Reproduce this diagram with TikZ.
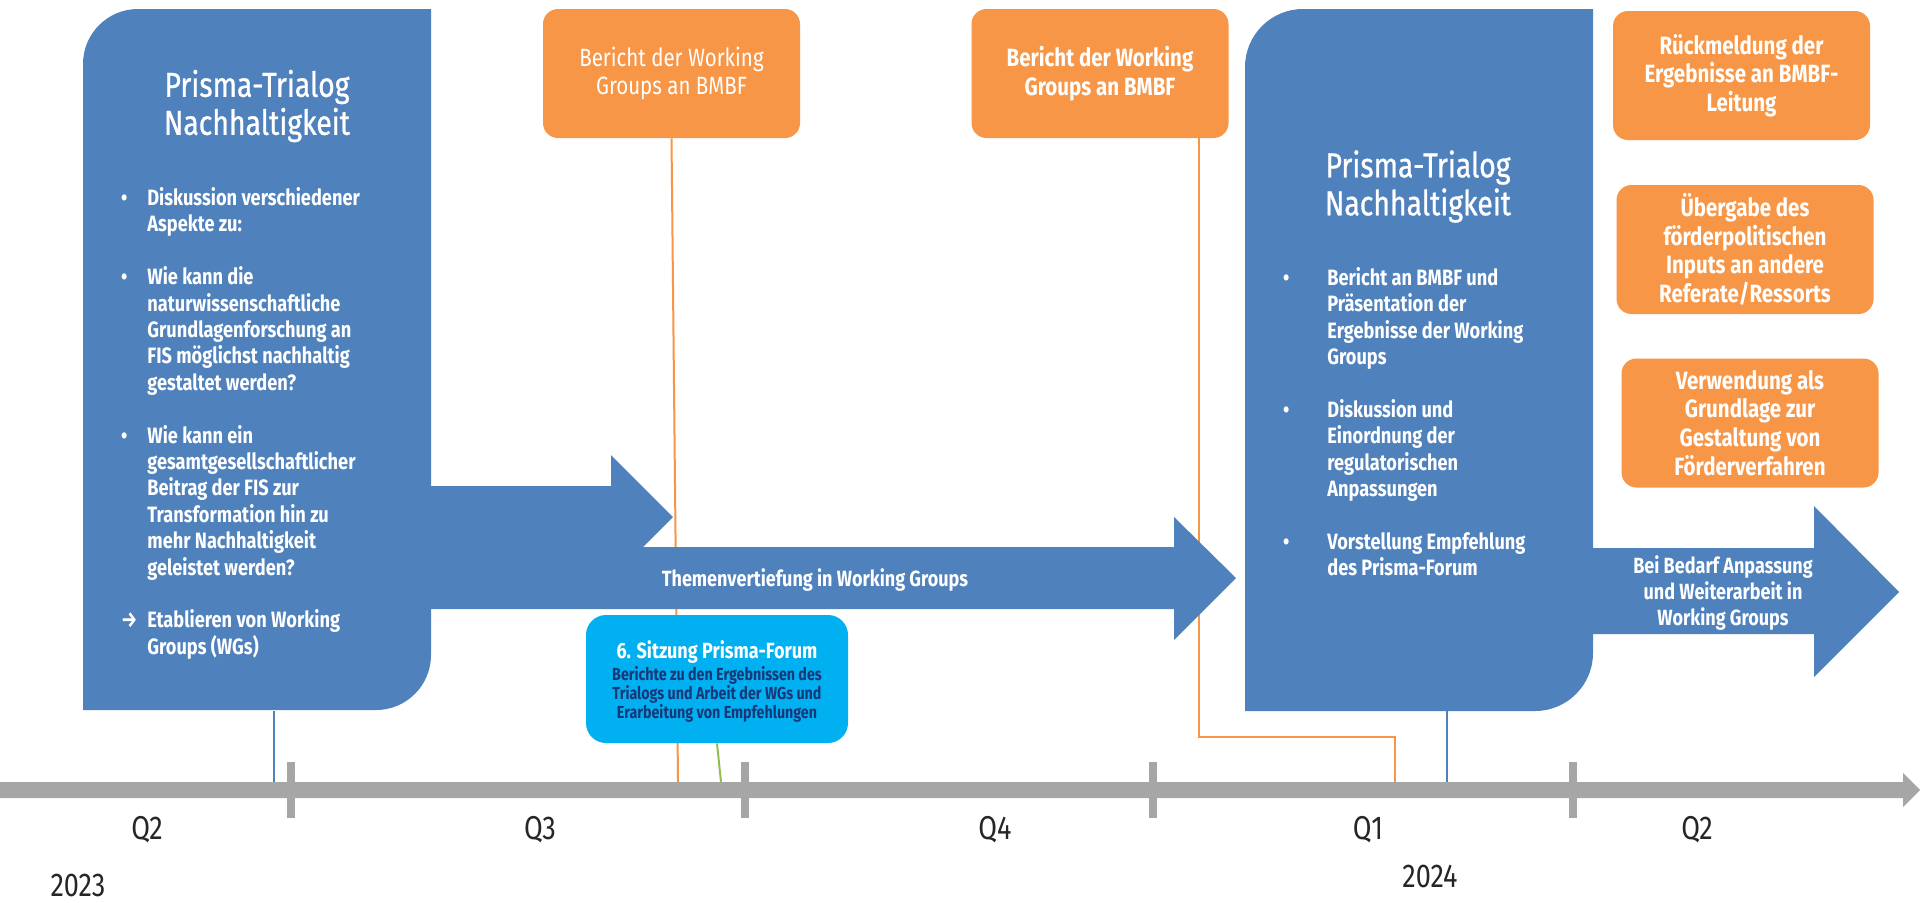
\documentclass[tikz,border=0pt]{standalone}
\usepackage{fontspec}
\setmainfont{Fira Sans}[FakeStretch=0.82]
\usetikzlibrary{backgrounds}

\definecolor{trialogblau}{RGB}{79,129,189}
\definecolor{berichtorange}{RGB}{247,150,70}
\definecolor{forumcyan}{RGB}{0,176,240}
\definecolor{forumtext}{RGB}{23,55,120}
\definecolor{achsengrau}{RGB}{166,166,166}
\definecolor{forumgruen}{RGB}{146,190,80}
\definecolor{beschriftung}{RGB}{38,38,38}

\pgfdeclarelayer{linien}
\pgfsetlayers{background,linien,main}

\newcommand\bul[1][10pt]{\makebox[0pt][r]{\textbullet\hspace{#1}}}

\begin{document}
\begin{tikzpicture}[x=0.5pt,y=-0.5pt,
  berichtbox/.style={fill=berichtorange,rounded corners=7.5pt,text=white,align=center,
    minimum width=128.5pt,minimum height=64.5pt,inner sep=0pt,
    font=\fontsize{12.5}{14.3}\selectfont\bfseries},
  titel/.style={text=white,align=center,font=\fontsize{17.3}{19}\selectfont\addfontfeature{FakeBold=0.8}},
  punkte/.style={text=white,align=left,anchor=north west,inner sep=0pt,
    font=\fontsize{11.1}{13.2}\selectfont\bfseries},
  pfeiltext/.style={text=white,align=center,font=\fontsize{11}{13.2}\selectfont\bfseries},
  stiel/.style={line width=1pt},
  quartal/.style={text=beschriftung,font=\fontsize{16.5}{19}\selectfont}]

  \begin{pgfonlayer}{background}
    \fill[white] (0,0) rectangle (1920,902);
  \end{pgfonlayer}
  \useasboundingbox (0,0) rectangle (1920,902);

  % Zeitachse
  \fill[achsengrau] (0,782) -- (1903,782) -- (1903,773) -- (1920,790) -- (1903,807) -- (1903,798) -- (0,798) -- cycle;
  \foreach \x in {291,745,1153,1573}
    \fill[achsengrau] (\x-4,762) rectangle (\x+4,818);
  \node[quartal] (q2a) at (147,830) {Q2};
  \node[quartal] (q3) at (540,830) {Q3};
  \node[quartal] (q4) at (995,830) {Q4};
  \node[quartal] (q1) at (1368,830) {Q1};
  \node[quartal] (q2b) at (1697,830) {Q2};
  \node[quartal] (j2023) at (78,885) {2023};
  \node[quartal] (j2024) at (1430,876) {2024};

  % Berichte
  \node[berichtbox,font=\fontsize{12.5}{14.3}\selectfont] (bericht1) at (671.5,73.5) {Bericht der Working\\Groups an BMBF};
  \node[berichtbox] (bericht2) at (1100,73.5) {Bericht der Working\\Groups an BMBF};
  \node[berichtbox] (rueckmeldung) at (1741.5,75.5) {Rückmeldung der\\Ergebnisse an BMBF-\\Leitung};
  \node[berichtbox] (uebergabe) at (1745,249.5) {Übergabe des\\förderpolitischen\\Inputs an andere\\Referate/Ressorts};
  \node[berichtbox] (verwendung) at (1750,423) {Verwendung als\\Grundlage zur\\Gestaltung von\\Förderverfahren};

  % Pfeile
  \fill[trialogblau] (431,486) -- (611,486) -- (611,455) -- (673,517) -- (611,579) -- (611,547) -- (431,547) -- cycle;
  \fill[trialogblau] (400,547) -- (1174,547) -- (1174,517) -- (1236,578) -- (1174,640) -- (1174,609) -- (400,609) -- cycle;
  \node[pfeiltext] (vertiefung) at (815,580) {Themenvertiefung in Working Groups};
  \fill[trialogblau] (1560,548) -- (1814,548) -- (1814,506) -- (1899,592) -- (1814,677) -- (1814,634) -- (1560,634) -- cycle;
  \node[pfeiltext] (weiterarbeit) at (1723,593) {Bei Bedarf Anpassung\\und Weiterarbeit in\\Working Groups};

  % Prisma-Trialog 2023
  \fill[trialogblau] (83,710) -- (83,64) .. controls (83,33.6) and (107.6,9) .. (138,9) -- (431,9) -- (431,655) .. controls (431,685.4) and (406.4,710) .. (376,710) -- cycle;
  \node[titel] (trialog1) at (257,106) {Prisma-Trialog\\Nachhaltigkeit};
  \node[punkte] (inhalt1) at (147,187) {\bul Diskussion verschiedener\\Aspekte zu:\\[13.2pt]
    \bul Wie kann die\\naturwissenschaftliche\\Grundlagenforschung an\\FIS möglichst nachhaltig\\gestaltet werden?\\[13.2pt]
    \bul Wie kann ein\\gesamtgesellschaftlicher\\Beitrag der FIS zur\\Transformation hin zu\\mehr Nachhaltigkeit\\geleistet werden?\\[13.2pt]
    \makebox[0pt][r]{→\hspace{5pt}}Etablieren von Working\\Groups (WGs)};

  % Prisma-Trialog 2024
  \fill[trialogblau] (1245,711) -- (1245,67) .. controls (1245,35) and (1271,9) .. (1303,9) -- (1593,9) -- (1593,653) .. controls (1593,685) and (1567,711) .. (1535,711) -- cycle;
  \node[titel] (trialog2) at (1418,186.5) {Prisma-Trialog\\Nachhaltigkeit};
  \node[punkte] (inhalt2) at (1327,267) {\bul[19pt]Bericht an BMBF und\\Präsentation der\\Ergebnisse der Working\\Groups\\[13.2pt]
    \bul[19pt]Diskussion und\\Einordnung der\\regulatorischen\\Anpassungen\\[13.2pt]
    \bul[19pt]Vorstellung Empfehlung\\des Prisma-Forum};

  % Prisma-Forum
  \node[fill=forumcyan,rounded corners=10pt,minimum width=131pt,minimum height=64pt] (forum) at (717,679) {};
  \node[text=white,font=\fontsize{11}{13.2}\selectfont\bfseries] (forumtitel) at (717,652) {6. Sitzung Prisma-Forum};
  \node[text=forumtext,align=center,font=\fontsize{8.7}{9.5}\selectfont\bfseries] (foruminhalt) at (717,694) {Berichte zu den Ergebnissen des\\Trialogs und Arbeit der WGs und\\Erarbeitung von Empfehlungen};

  % Verbindungen zur Achse
  \coordinate (fussA) at (274,711);
  \coordinate (achseA) at (274,782);
  \coordinate (achseB) at (678,782);
  \coordinate (achseC) at (721,782);
  \coordinate (knick) at (1395,737);
  \coordinate (achseD) at (1395,782);
  \coordinate (fussB) at (1447,711);
  \coordinate (achseE) at (1447,782);
  \begin{pgfonlayer}{linien}
    \draw[stiel,trialogblau] (fussA) -- (achseA);
    \draw[stiel,berichtorange] (bericht1.south) -- (achseB);
    \draw[stiel,forumgruen] (forum.south) -- (achseC);
    \draw[stiel,berichtorange] ([xshift=-15pt]bericht2.south east) |- (knick) -- (achseD);
    \draw[stiel,trialogblau] (fussB) -- (achseE);
  \end{pgfonlayer}
\end{tikzpicture}
\end{document}
